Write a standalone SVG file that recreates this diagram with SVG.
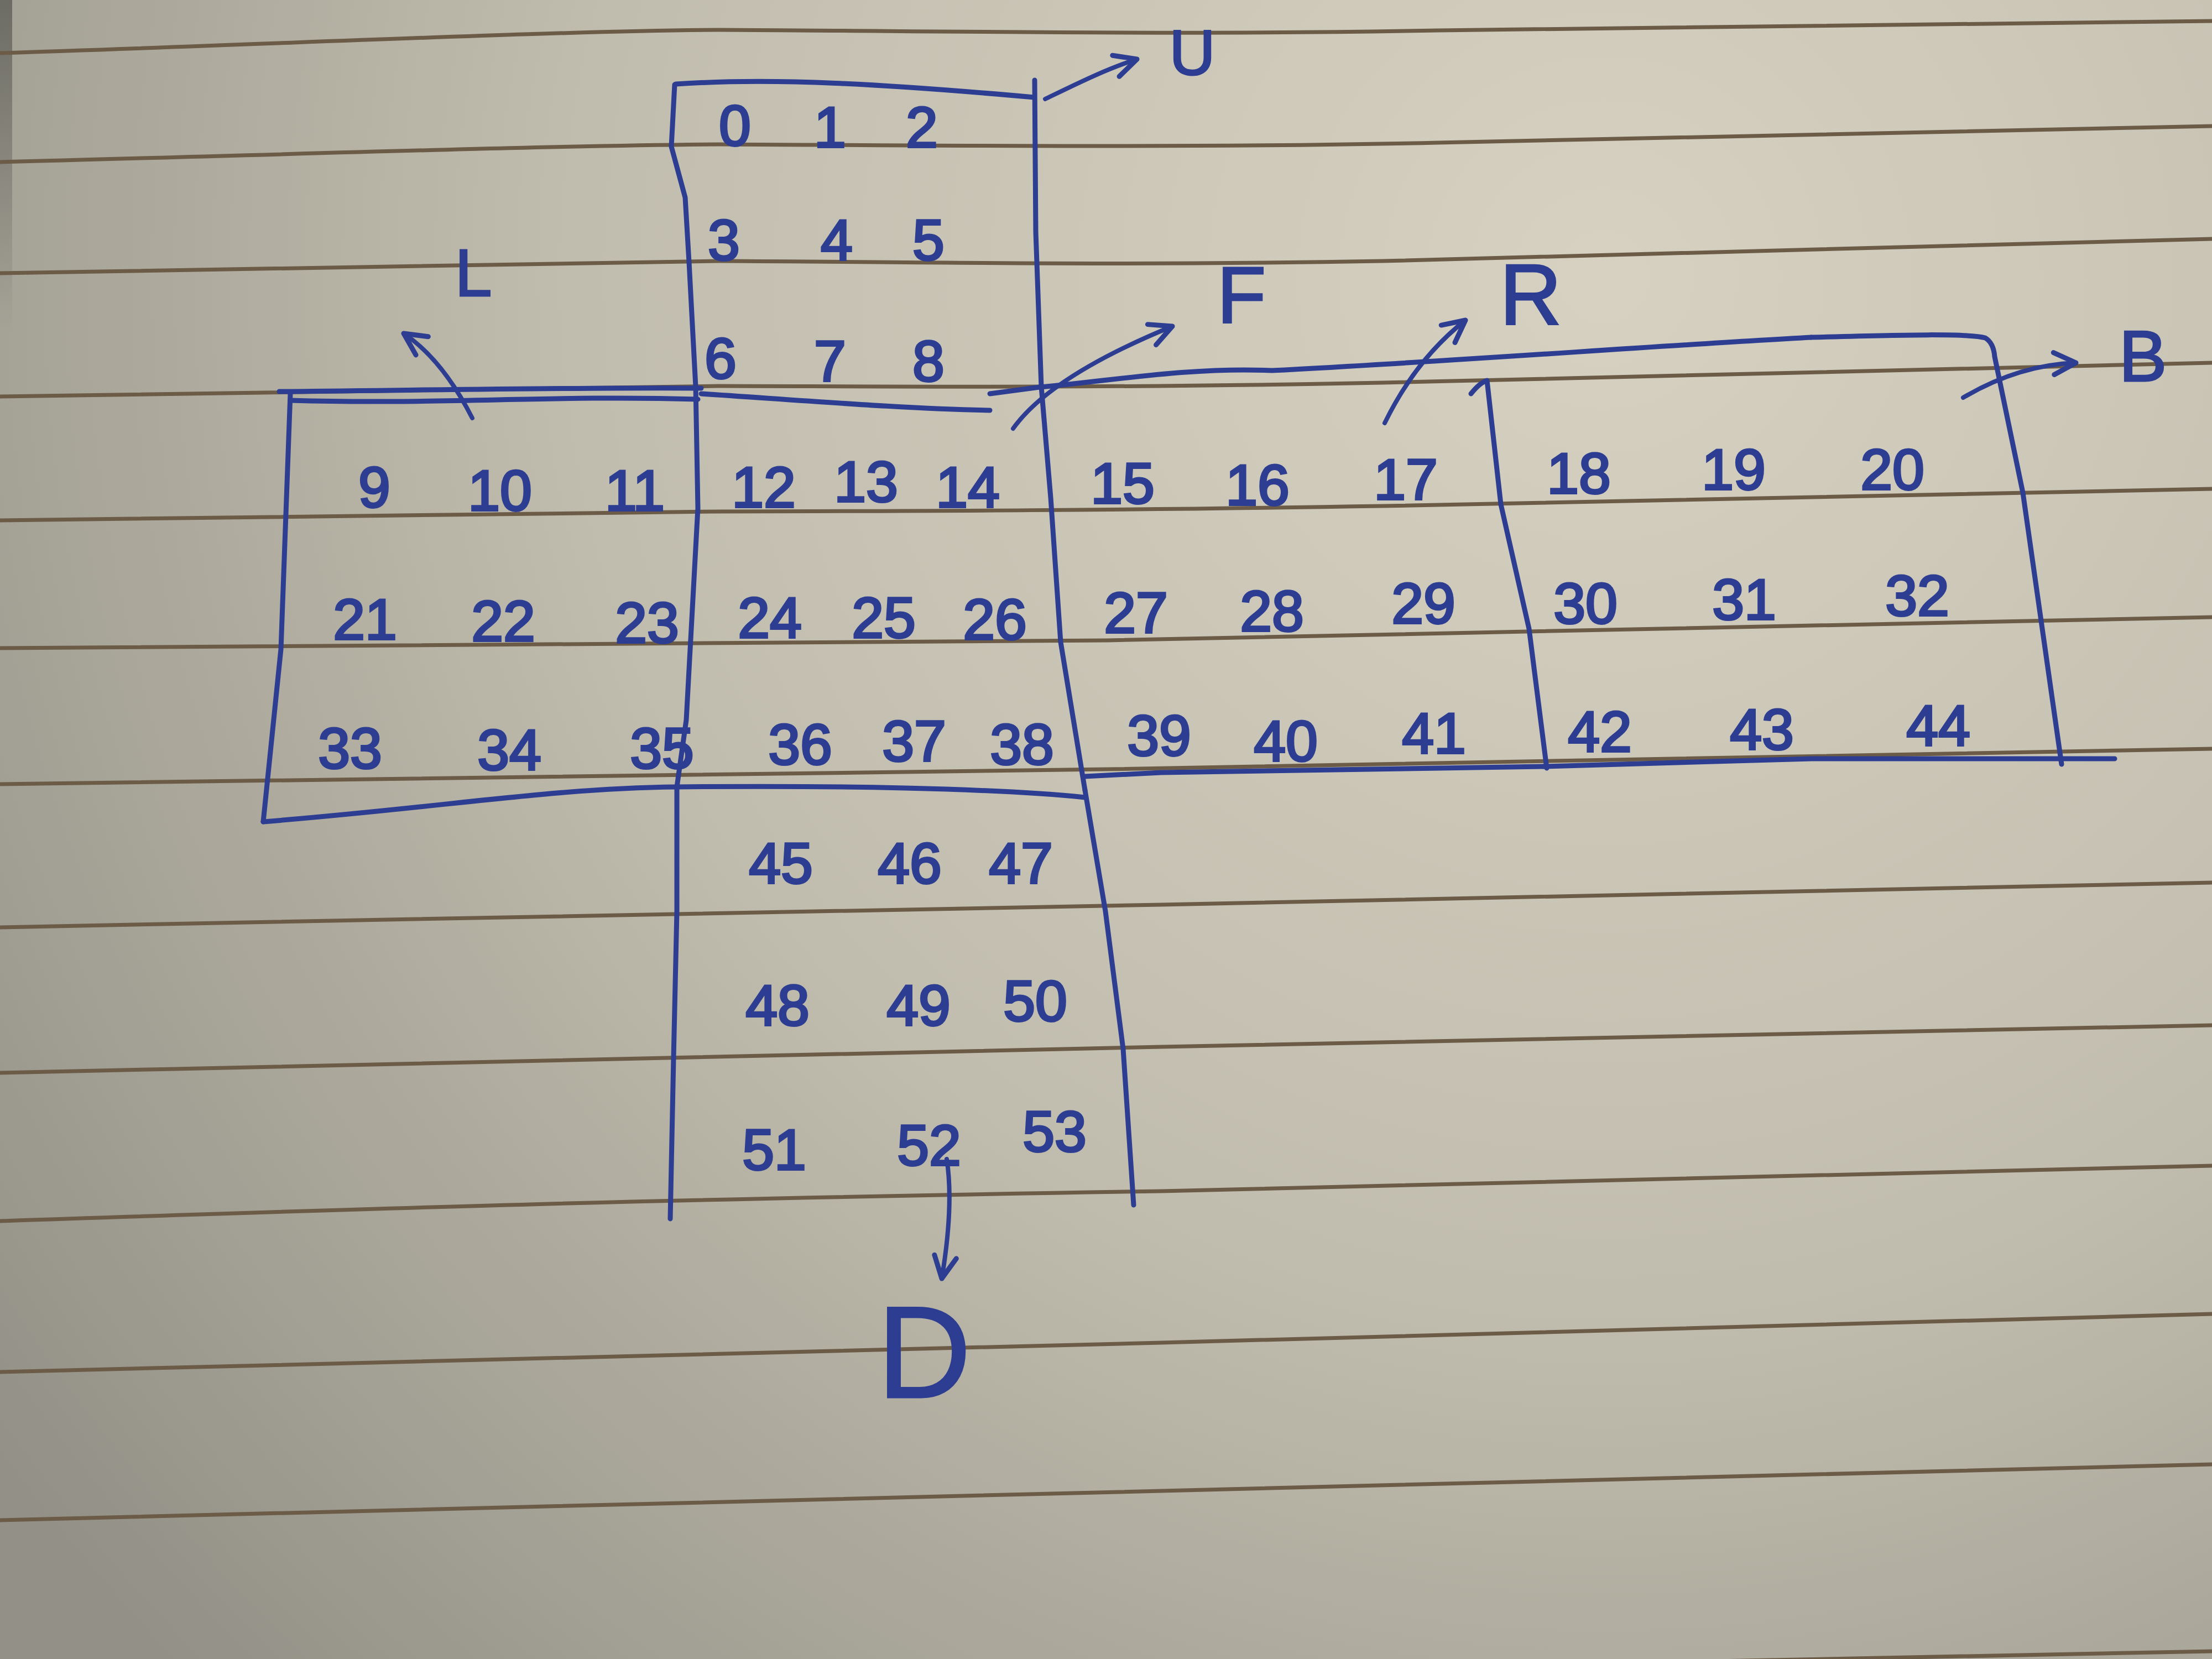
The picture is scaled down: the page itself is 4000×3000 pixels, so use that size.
<svg xmlns="http://www.w3.org/2000/svg" width="4000" height="3000" viewBox="0 0 4000 3000">
<defs>
<radialGradient id="paperGrad" cx="2900" cy="500" r="3600" gradientUnits="userSpaceOnUse">
<stop offset="0" stop-color="#d6d1c1"/>
<stop offset="0.5" stop-color="#c2beaf"/>
<stop offset="1" stop-color="#939187"/>
</radialGradient>
<linearGradient id="edgeShade" x1="0" y1="0" x2="0" y2="1">
<stop offset="0" stop-color="#55554f" stop-opacity="0.7"/>
<stop offset="1" stop-color="#55554f" stop-opacity="0"/>
</linearGradient>
<marker id="ah" viewBox="0 0 10 10" refX="9" refY="5" markerWidth="50" markerHeight="50" markerUnits="userSpaceOnUse" orient="auto">
<path d="M1,1 L9,5 L1,9" fill="none" stroke="#2c3d92" stroke-width="1.8" stroke-linecap="round" stroke-linejoin="round"/>
</marker>
<style>
.rule{fill:none;stroke:#6b5b47;stroke-width:7;stroke-linecap:round}
.ink{fill:none;stroke:#2c3d92;stroke-width:9;stroke-linecap:round;stroke-linejoin:round}
.arrow{fill:none;stroke:#2c3d92;stroke-width:8;stroke-linecap:round;marker-end:url(#ah)}
.num{font-family:"Liberation Sans","DejaVu Sans",sans-serif;font-size:104px;fill:#2c3d92;stroke:#2c3d92;stroke-width:4;text-anchor:middle;dominant-baseline:central}
.lbl{font-family:"Liberation Sans","DejaVu Sans",sans-serif;fill:#2c3d92;stroke:#2c3d92;stroke-width:3;text-anchor:middle;dominant-baseline:central}
</style>
</defs>

<g id="paper">
<rect x="0" y="0" width="4000" height="3000" fill="url(#paperGrad)"/>
<rect x="0" y="0" width="22" height="600" fill="url(#edgeShade)"/>
<path class="rule" d="M0,96 C500,80 1000,56 1300,54 C1700,56 2150,64 2600,55 C3100,48 3600,42 4000,38"/>
<path class="rule" d="M0,293 C500,280 1000,263 1300,261 C1700,263 2150,268 2600,258 C3100,248 3600,236 4000,228"/>
<path class="rule" d="M0,494 C500,485 1000,474 1300,472 C1700,474 2000,481 2500,472 C3100,458 3600,444 4000,432"/>
<path class="rule" d="M0,717 C500,710 1000,700 1300,698 C1700,699 2000,702 2500,692 C3100,680 3600,668 4000,656"/>
<path class="rule" d="M0,941 C500,935 1000,927 1300,925 C1700,924 2000,923 2500,915 C3100,904 3600,894 4000,884"/>
<path class="rule" d="M0,1172 C400,1168 1200,1163 2000,1158 C2700,1148 3400,1130 4000,1116"/>
<path class="rule" d="M0,1418 C400,1413 1100,1404 2000,1391 C2700,1380 3400,1364 4000,1354"/>
<path class="rule" d="M0,1677 C600,1665 1100,1652 2100,1636 C2900,1622 3500,1608 4000,1596"/>
<path class="rule" d="M0,1940 C600,1927 1100,1914 2100,1893 C2900,1877 3500,1866 4000,1854"/>
<path class="rule" d="M0,2208 C600,2188 1100,2170 2100,2154 C2900,2136 3500,2122 4000,2108"/>
<path class="rule" d="M0,2481 C600,2466 1100,2453 2100,2428 C2900,2406 3500,2390 4000,2376"/>
<path class="rule" d="M0,2749 C1200,2722 2600,2686 4000,2648"/>
<path class="rule" d="M2700,3012 C3200,3002 3600,2994 4000,2986"/>
</g>

<g id="face-U">
<path class="ink" d="M1222,152 C1400,140 1600,152 1870,176"/>
<path class="ink" d="M1220,153 L1214,265 L1239,357 L1246,474 L1258,699"/>
<path class="ink" d="M1871,145 L1873,420 L1883,699"/>
<path class="ink" d="M1268,712 C1450,724 1650,740 1790,742"/>
<path class="ink" d="M1790,712 L1880,700"/>
<text class="num" x="1329" y="227">0</text>
<text class="num" x="1501" y="230">1</text>
<text class="num" x="1667" y="230">2</text>
<text class="num" x="1309" y="434">3</text>
<text class="num" x="1513" y="434">4</text>
<text class="num" x="1679" y="434">5</text>
<text class="num" x="1303" y="648">6</text>
<text class="num" x="1501" y="653">7</text>
<text class="num" x="1679" y="653">8</text>
</g>

<g id="face-L">
<path class="ink" d="M505,708 C800,705 1100,700 1268,702"/>
<path class="ink" d="M525,724 C800,732 1000,714 1262,722"/>
<path class="ink" d="M525,712 L508,1174 L476,1486"/>
<path class="ink" d="M476,1486 C800,1460 1000,1425 1224,1423"/>
<text class="num" x="677" y="881">9</text>
<text class="num" x="904" y="887">10</text>
<text class="num" x="1148" y="887">11</text>
<text class="num" x="660" y="1120">21</text>
<text class="num" x="910" y="1123">22</text>
<text class="num" x="1170" y="1126">23</text>
<text class="num" x="633" y="1353">33</text>
<text class="num" x="921" y="1356">34</text>
<text class="num" x="1197" y="1353">35</text>
</g>

<g id="face-F">
<path class="ink" d="M1258,699 L1262,919 L1241,1302 L1224,1423"/>
<path class="ink" d="M1883,699 L1900,900 L1918,1161 L1962,1429"/>
<path class="ink" d="M1224,1423 C1500,1420 1800,1425 1962,1442"/>
<text class="num" x="1381" y="881">12</text>
<text class="num" x="1566" y="871">13</text>
<text class="num" x="1750" y="881">14</text>
<text class="num" x="1392" y="1117">24</text>
<text class="num" x="1598" y="1117">25</text>
<text class="num" x="1799" y="1120">26</text>
<text class="num" x="1447" y="1346">36</text>
<text class="num" x="1653" y="1340">37</text>
<text class="num" x="1848" y="1346">38</text>
</g>

<g id="face-R">
<path class="ink" d="M1880,700 C2000,690 2150,663 2300,670 C2600,655 3000,625 3275,610"/>
<path class="ink" d="M2660,712 Q2676,692 2689,688 L2714,912 L2765,1137 L2797,1389"/>
<path class="ink" d="M1962,1404 L2100,1397 L2791,1386"/>
<text class="num" x="2030" y="874">15</text>
<text class="num" x="2274" y="877">16</text>
<text class="num" x="2542" y="867">17</text>
<text class="num" x="2054" y="1108">27</text>
<text class="num" x="2300" y="1105">28</text>
<text class="num" x="2574" y="1091">29</text>
<text class="num" x="2096" y="1330">39</text>
<text class="num" x="2325" y="1340">40</text>
<text class="num" x="2593" y="1326">41</text>
</g>

<g id="face-B">
<path class="ink" d="M3275,610 C3450,605 3560,603 3590,611 Q3605,620 3607,645 L3658,891 L3728,1382"/>
<path class="ink" d="M2791,1386 L3276,1372 L3824,1372"/>
<text class="num" x="2855" y="856">18</text>
<text class="num" x="3135" y="849">19</text>
<text class="num" x="3422" y="849">20</text>
<text class="num" x="2867" y="1091">30</text>
<text class="num" x="3154" y="1084">31</text>
<text class="num" x="3467" y="1077">32</text>
<text class="num" x="2893" y="1323">42</text>
<text class="num" x="3186" y="1319">43</text>
<text class="num" x="3505" y="1312">44</text>
</g>

<g id="face-D">
<path class="ink" d="M1224,1423 L1224,1648 L1218,1914 L1212,2204"/>
<path class="ink" d="M1962,1429 L1999,1648 L2031,1897 L2050,2179"/>
<text class="num" x="1412" y="1561">45</text>
<text class="num" x="1645" y="1561">46</text>
<text class="num" x="1846" y="1561">47</text>
<text class="num" x="1406" y="1818">48</text>
<text class="num" x="1661" y="1818">49</text>
<text class="num" x="1872" y="1810">50</text>
<text class="num" x="1400" y="2079">51</text>
<text class="num" x="1680" y="2071">52</text>
<text class="num" x="1907" y="2046">53</text>
</g>

<g id="connectors">
<path class="arrow" d="M1890,179 C1950,150 2000,125 2056,107"/>
<path class="arrow" d="M1832,775 Q1900,680 2120,590"/>
<path class="arrow" d="M854,756 Q800,650 730,603"/>
<path class="arrow" d="M2504,765 Q2560,650 2650,579"/>
<path class="arrow" d="M3550,719 Q3650,660 3754,656"/>
<path class="arrow" d="M1712,2096 Q1725,2180 1703,2312"/>
</g>

<g id="labels">
<text class="lbl" x="2156" y="95" font-size="115">U</text>
<text class="lbl" x="856" y="493" font-size="120">L</text>
<text class="lbl" x="2245" y="533" font-size="145">F</text>
<text class="lbl" x="2768" y="533" font-size="155">R</text>
<text class="lbl" x="3875" y="644" font-size="130">B</text>
<text class="lbl" x="1671" y="2445" font-size="235">D</text>
</g>
</svg>
